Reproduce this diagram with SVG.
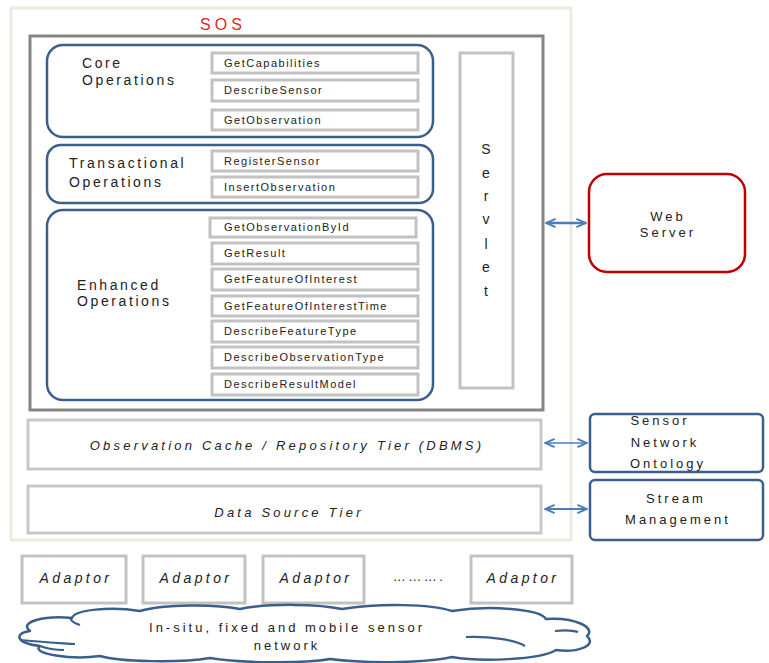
<svg xmlns="http://www.w3.org/2000/svg" width="769" height="663" viewBox="0 0 769 663">
  <defs>
    <marker id="headL" viewBox="0 0 10 10" refX="9" refY="5" markerWidth="12" markerHeight="12" orient="auto-start-reverse" markerUnits="userSpaceOnUse">
      <path d="M1,1.5 L9,5 L1,8.5" fill="none" stroke="#4a7ebb" stroke-width="1.6"/>
    </marker>
  </defs>
  <style>
    text { font-family: "Liberation Sans", Arial, sans-serif; fill: #222; }
    .outer { fill: #fff; stroke: #ecebe1; stroke-width: 3; }
    .frame { fill: none; stroke: #858585; stroke-width: 3; }
    .group { fill: #fff; stroke: #3b5f8c; stroke-width: 2.5; }
    .op { fill: #fff; stroke: #c2c2c2; stroke-width: 3; }
    .optext { font-size: 11px; letter-spacing: 1.5px; }
    .label { font-size: 14px; letter-spacing: 2.6px; }
    .tier { fill: #fff; stroke: #c8c8c8; stroke-width: 3; }
    .it { font-style: italic; font-size: 13px; letter-spacing: 3.2px; text-anchor: middle; }
    .side { fill: #fff; stroke: #3b5f8c; stroke-width: 2.5; }
    .sidetext { font-size: 13px; letter-spacing: 3px; text-anchor: middle; }
    .adp { fill: #fff; stroke: #c2c2c2; stroke-width: 3; }
    .adptext { font-style: italic; font-size: 14px; letter-spacing: 3.4px; text-anchor: middle; }
    .link { fill: none; stroke: #4a7ebb; }
    .cloud { fill: #fff; stroke: #3b5f8c; stroke-width: 2.5; stroke-linejoin: round; }
    .cloudline { fill: none; stroke: #3b5f8c; stroke-width: 2.2; }
  </style>

  <rect width="769" height="663" fill="#fff"/>

  <!-- SOS container -->
  <g id="sos">
    <rect class="outer" x="11" y="8" width="560" height="532"/>
    <text x="223" y="30" font-size="16" style="fill:#e8231e;letter-spacing:4px" text-anchor="middle">SOS</text>
    <rect class="frame" x="30" y="36" width="513" height="374"/>
  </g>

  <!-- Core operations -->
  <g id="core-operations">
    <rect class="group" x="47" y="45" width="386" height="92" rx="16"/>
    <text class="label" x="82" y="68">Core</text>
    <text class="label" x="82" y="85">Operations</text>
    <rect class="op" x="212" y="53" width="206" height="20"/>
    <text class="optext" x="224" y="67">GetCapabilities</text>
    <rect class="op" x="212" y="80" width="206" height="21"/>
    <text class="optext" x="224" y="94">DescribeSensor</text>
    <rect class="op" x="212" y="110" width="206" height="20"/>
    <text class="optext" x="224" y="124">GetObservation</text>
  </g>

  <!-- Transactional operations -->
  <g id="transactional-operations">
    <rect class="group" x="47" y="145" width="386" height="58" rx="14"/>
    <text class="label" x="69" y="168">Transactional</text>
    <text class="label" x="69" y="187">Operations</text>
    <rect class="op" x="212" y="151" width="206" height="20"/>
    <text class="optext" x="224" y="165">RegisterSensor</text>
    <rect class="op" x="212" y="177" width="206" height="20"/>
    <text class="optext" x="224" y="191">InsertObservation</text>
  </g>

  <!-- Enhanced operations -->
  <g id="enhanced-operations">
    <rect class="group" x="47" y="210" width="386" height="190" rx="16"/>
    <text class="label" x="77" y="290">Enhanced</text>
    <text class="label" x="77" y="306">Operations</text>
    <rect class="op" x="210" y="218" width="206" height="19"/>
    <text class="optext" x="224" y="231">GetObservationById</text>
    <rect class="op" x="212" y="243" width="206" height="21"/>
    <text class="optext" x="224" y="257">GetResult</text>
    <rect class="op" x="212" y="269" width="206" height="21"/>
    <text class="optext" x="224" y="283">GetFeatureOfInterest</text>
    <rect class="op" x="212" y="296" width="206" height="20"/>
    <text class="optext" x="224" y="310">GetFeatureOfInterestTime</text>
    <rect class="op" x="212" y="321" width="206" height="21"/>
    <text class="optext" x="224" y="335">DescribeFeatureType</text>
    <rect class="op" x="212" y="347" width="206" height="21"/>
    <text class="optext" x="224" y="361">DescribeObservationType</text>
    <rect class="op" x="212" y="374" width="206" height="21"/>
    <text class="optext" x="224" y="388">DescribeResultModel</text>
  </g>

  <!-- Servlet -->
  <g id="servlet">
    <rect class="op" x="460" y="53" width="53" height="335"/>
    <g font-size="14" text-anchor="middle">
      <text x="486" y="154">S</text>
      <text x="486" y="178">e</text>
      <text x="486" y="201">r</text>
      <text x="486" y="224">v</text>
      <text x="486" y="249">l</text>
      <text x="486" y="272">e</text>
      <text x="486" y="296">t</text>
    </g>
  </g>

  <!-- Storage tiers -->
  <g id="observation-cache">
    <rect class="tier" x="28" y="420" width="513" height="49"/>
    <text class="it" x="287" y="450">Observation Cache / Repository Tier (DBMS)</text>
  </g>
  <g id="data-source-tier">
    <rect class="tier" x="28" y="486" width="513" height="47"/>
    <text class="it" x="289" y="517">Data Source Tier</text>
  </g>

  <!-- External services -->
  <g id="web-server">
    <rect x="589" y="174" width="156" height="98" rx="18" fill="#fff" stroke="#c00000" stroke-width="2.5"/>
    <text class="sidetext" x="668" y="221">Web</text>
    <text class="sidetext" x="668" y="237">Server</text>
  </g>
  <g id="sensor-network-ontology">
    <rect class="side" x="590" y="414" width="173" height="58" rx="5"/>
    <text class="sidetext" x="660" y="425">Sensor</text>
    <text class="sidetext" x="665" y="447">Network</text>
    <text class="sidetext" x="668" y="468">Ontology</text>
  </g>
  <g id="stream-management">
    <rect class="side" x="590" y="480" width="173" height="60" rx="5"/>
    <text class="sidetext" x="676" y="503">Stream</text>
    <text class="sidetext" x="678" y="524">Management</text>
  </g>

  <!-- Adaptors -->
  <g id="adaptor-1">
    <rect class="adp" x="22" y="556" width="104" height="47"/>
    <text class="adptext" x="76" y="583">Adaptor</text>
  </g>
  <g id="adaptor-2">
    <rect class="adp" x="143" y="556" width="102" height="47"/>
    <text class="adptext" x="196" y="583">Adaptor</text>
  </g>
  <g id="adaptor-3">
    <rect class="adp" x="263" y="556" width="101" height="47"/>
    <text class="adptext" x="316" y="583">Adaptor</text>
  </g>
  <text x="419" y="581" font-size="13" text-anchor="middle" style="letter-spacing:2.5px">……….</text>
  <g id="adaptor-4">
    <rect class="adp" x="471" y="556" width="101" height="47"/>
    <text class="adptext" x="523" y="583">Adaptor</text>
  </g>

  <!-- Sensor network cloud -->
  <g id="sensor-network">
    <path class="cloud" d="M30,631 C18,622 45,615 72,618 C74,610 110,606 140,611 C165,604 215,604 240,609 C270,603 320,604 342,609 C380,603 430,604 452,611 C490,605 540,609 546,619 C576,617 596,628 587,636 C598,646 576,653 556,650 C540,660 480,662 452,657 C420,664 360,663 330,659 C300,664 240,663 210,658 C180,663 120,662 100,656 C72,660 30,654 40,646 C15,643 14,633 30,631 Z"/>
    <path class="cloudline" d="M20,640 C40,642 60,643 75,644"/>
    <path class="cloudline" d="M70,618 C72,622 76,624 80,625"/>
    <path class="cloudline" d="M466,637 C490,636 515,640 525,646"/>
    <path class="cloudline" d="M555,631 C565,630 572,630 578,632"/>
    <path class="cloudline" d="M40,646 C48,649 56,650 64,650"/>
    <text x="287" y="632" font-size="13" text-anchor="middle" style="letter-spacing:3px">In-situ, fixed and mobile sensor</text>
    <text x="287" y="650" font-size="13" text-anchor="middle" style="letter-spacing:3px">network</text>
  </g>

  <!-- Connectors -->
  <g id="connectors">
    <line class="link" x1="546" y1="223" x2="586" y2="223" stroke-width="2.5" marker-start="url(#headL)" marker-end="url(#headL)"/>
    <line class="link" x1="545" y1="443" x2="587" y2="443" stroke-width="1.3" marker-start="url(#headL)" marker-end="url(#headL)"/>
    <line class="link" x1="545" y1="509" x2="587" y2="509" stroke-width="2.2" marker-start="url(#headL)" marker-end="url(#headL)"/>
  </g>
</svg>
